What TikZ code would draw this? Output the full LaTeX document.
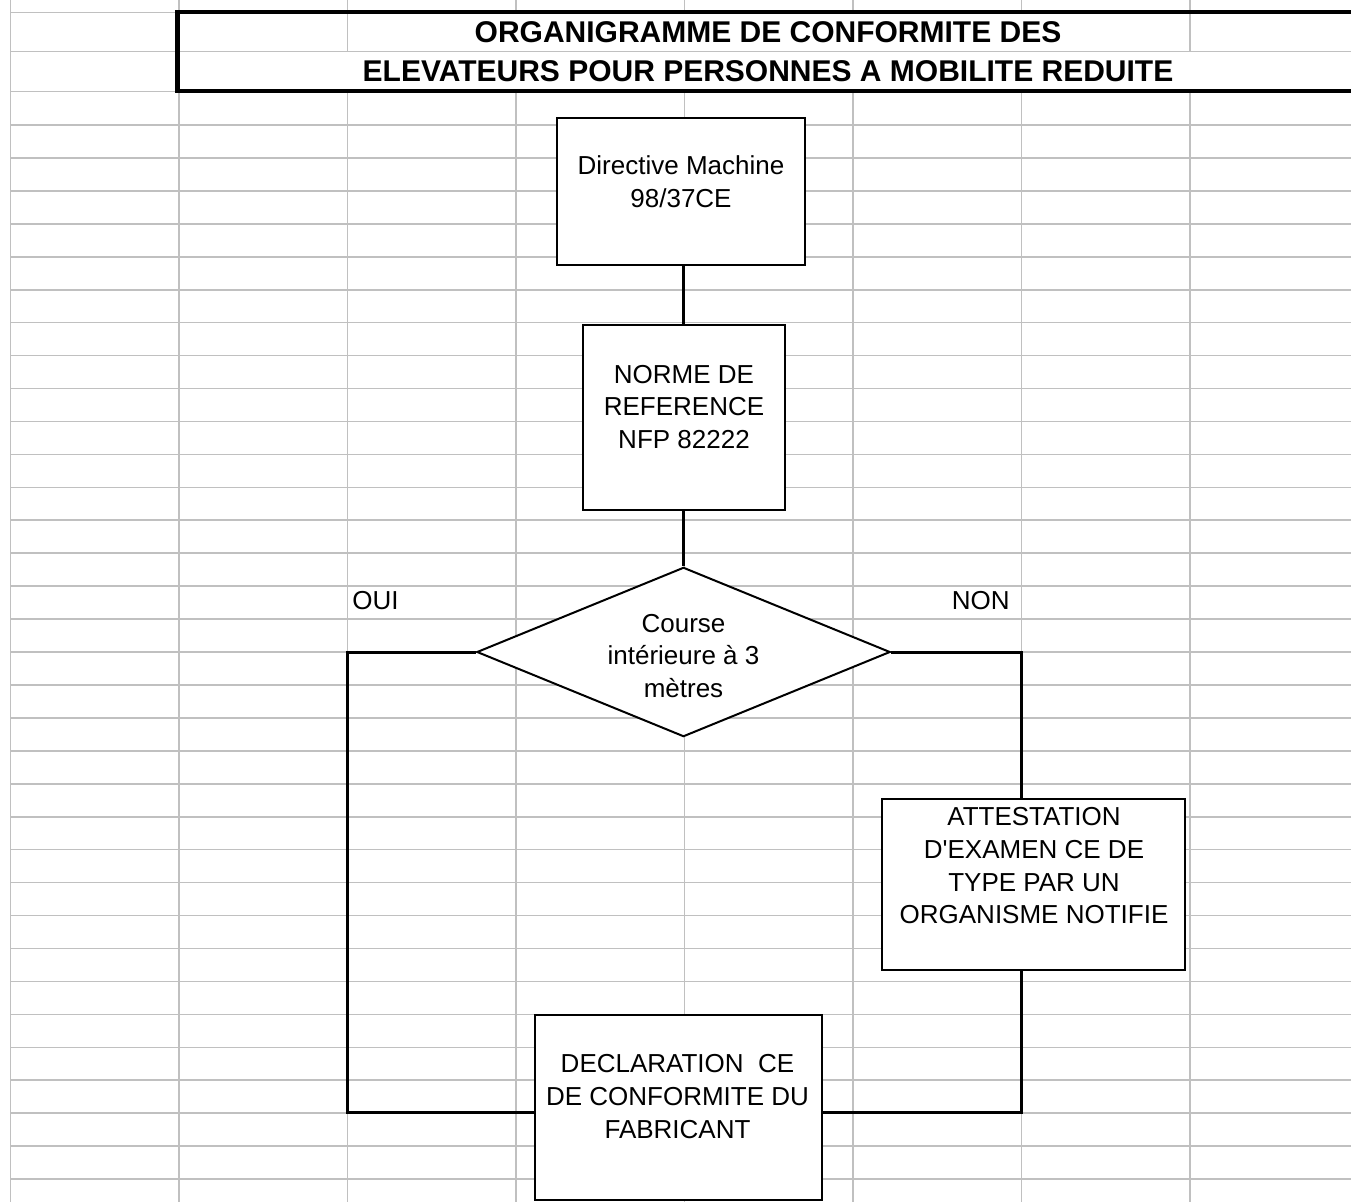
\documentclass[tikz,border=0pt]{standalone}
\usepackage{fontspec}
\setmainfont{Liberation Sans}
\usetikzlibrary{shapes.geometric}

\begin{document}
\begin{tikzpicture}[x=0.75pt,y=0.75pt,yscale=-1,xscale=1,
  grille/.style={color={rgb, 255:red, 192; green, 192; blue, 192 },line width=1.2pt},
  boite/.style={draw,fill=white,line width=1.5pt,inner sep=0pt},
  losange/.style={diamond,draw,fill=white,line width=1.5pt,inner sep=0pt},
  texte/.style={inner sep=0pt,align=center,font=\fontsize{19.5}{24.6}\selectfont},
  liaison/.style={line width=2.25pt}]
\useasboundingbox (0,0) rectangle (1351,1202);

%Grid of the sheet
\foreach \gx in {0,...,7}
  \draw[grille] ({10.3+168.5*\gx},0) -- ({10.3+168.5*\gx},1202);
\foreach \gy in {12.7,51.7,91.7}
  \draw[grille] (10.3,\gy) -- (1351,\gy);
\foreach \k in {0,...,32}
  \draw[grille] (10.3,{125+32.94*\k}) -- (1351,{125+32.94*\k});
%merged cells of the title
\fill[white] (348.3,14.5) rectangle (1188.9,50.9);
\fill[white] (180,52.5) rectangle (1351,90.9);

%Shape: Rectangle (title)
\node[draw,line width=3.4pt,minimum width=885.75pt,minimum height=59.25pt,inner sep=0pt,align=center,font=\fontsize{22.5}{29.25}\selectfont\bfseries] (titre) at (768,51.5) {ORGANIGRAMME DE CONFORMITE DES\\ELEVATEURS POUR PERSONNES A MOBILITE REDUITE};

%Shape: Rectangle
\node[boite,minimum width=186pt,minimum height=109.9pt] (dirbox) at (681,191.3) {};
% Text Node
\node[texte] (dirtxt) at (681,182) {Directive Machine\\98/37CE};

%Shape: Rectangle
\node[boite,minimum width=151.5pt,minimum height=139.1pt] (normebox) at (684,417.3) {};
% Text Node
\node[texte] (normetxt) at (684,407) {NORME DE\\REFERENCE\\NFP 82222};

%Shape: Diamond
\node[losange,minimum width=310pt,minimum height=127pt] (course) at (683.5,652) {};
% Text Node
\node[texte] (coursetxt) at (683.5,656) {Course\\intérieure à 3\\mètres};

%Shape: Rectangle
\node[boite,minimum width=227.25pt,minimum height=128pt] (attbox) at (1033.5,884.7) {};
% Text Node
\node[texte] (atttxt) at (1034,865.8) {ATTESTATION\\D\textquotesingle EXAMEN CE DE\\TYPE PAR UN\\ORGANISME NOTIFIE};

%Shape: Rectangle
\node[boite,minimum width=215.25pt,minimum height=138.4pt] (declbox) at (678.5,1107.3) {};
% Text Node
\node[texte] (decltxt) at (677.5,1096.7) {DECLARATION\ \ CE\\DE CONFORMITE DU\\FABRICANT};

% Text Node
\node[texte,anchor=base west] (oui) at (352,609.3) {OUI};
% Text Node
\node[texte,anchor=base east] (non) at (1010,609.3) {NON};

\coordinate (coinoui) at (347.3,1112.7);
\coordinate (coinnon) at (1021,1112.7);

%Straight Lines
\draw[liaison] (course.north |- dirbox.south) -- (course.north |- normebox.north);
\draw[liaison] (course.north |- normebox.south) -- (course.north);
\draw[liaison] (course.west) -| (coinoui) -- (coinoui -| declbox.west);
\draw[liaison] (course.east) -| (coinnon |- attbox.north);
\draw[liaison] (attbox.south -| coinnon) -- (coinnon) -- (coinnon -| declbox.east);

\end{tikzpicture}
\end{document}
